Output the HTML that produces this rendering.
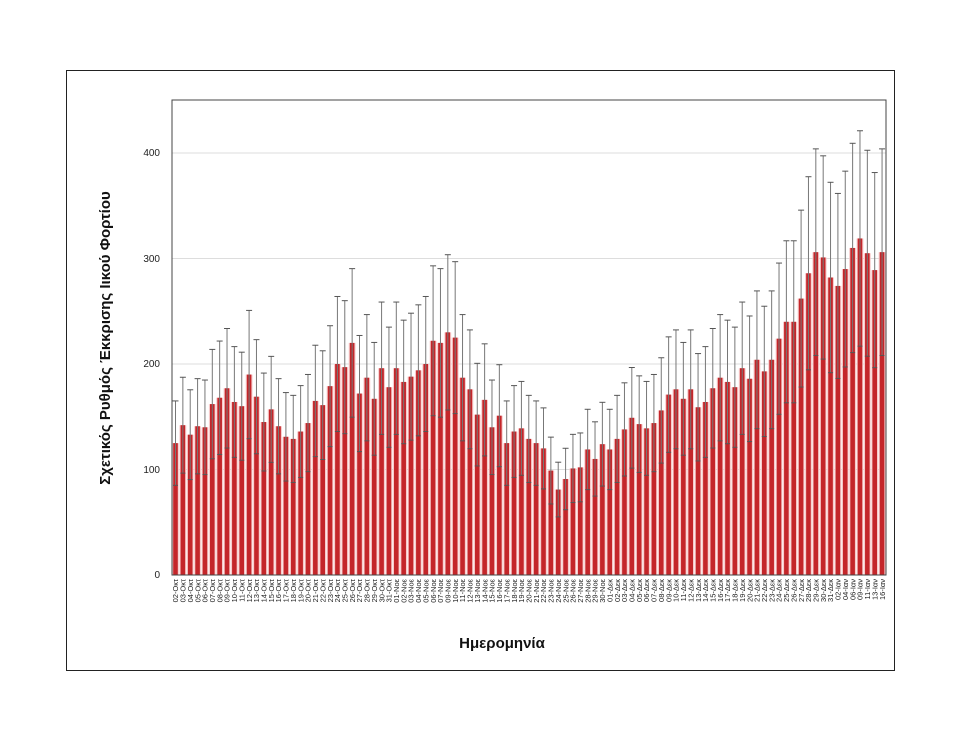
<!DOCTYPE html>
<html><head><meta charset="utf-8"><style>html,body{margin:0;padding:0;background:#fff}svg{display:block}</style></head>
<body>
<svg id="s" width="960" height="742" xmlns="http://www.w3.org/2000/svg" font-family="Liberation Sans, DejaVu Sans, sans-serif">
<rect x="66.5" y="70.5" width="828" height="600" fill="#fff" stroke="#222" stroke-width="1"/>
<g stroke="#ddd" stroke-width="1">
<line x1="172" y1="469.5" x2="886" y2="469.5"/>
<line x1="172" y1="364" x2="886" y2="364"/>
<line x1="172" y1="258.5" x2="886" y2="258.5"/>
<line x1="172" y1="153" x2="886" y2="153"/>
</g>
<g font-size="10" fill="#222" text-anchor="end">
<text x="160" y="578">0</text><text x="160" y="473">100</text><text x="160" y="367">200</text><text x="160" y="262">300</text><text x="160" y="156">400</text>
</g>
<g id="bars"></g>
<rect x="172" y="100" width="714" height="475" fill="none" stroke="#444" stroke-width="1"/>
<g id="labs" font-size="7.5" fill="#222"></g>
<text transform="translate(110,338) rotate(-90)" text-anchor="middle" font-size="15" font-weight="bold" fill="#111">Σχετικός Ρυθμός Έκκρισης Ιικού Φορτίου</text>
<text x="502" y="648" text-anchor="middle" font-size="15" font-weight="bold" fill="#111">Ημερομηνία</text>
</svg>
<script>
var v=[125,142,133,141,140,162,168,177,164,160,190,169,145,157,141,131,129,136,144,165,161,179,200,197,220,172,187,167,196,178,
196,183,188,194,200,222,220,230,225,187,
176,152,166,140,151,125,136,139,129,125,120,99,81,91,101,102,119,110,124,119,129,138,149,143,139,144,156,171,176,167,176,
159,164,177,187,183,178,196,186,204,193,204,224,240,240,262,286,306,301,282,274,290,310,319,305,289,306];
var L=[];
function p(n){return (n<10?'0':'')+n}
for(var d=2;d<=31;d++)L.push(p(d)+'-Οκτ');
for(var d=1;d<=30;d++)if(d!=8)L.push(p(d)+'-Νοε');
for(var d=1;d<=31;d++)L.push(p(d)+'-Δεκ');
[2,4,6,9,11,13,16].forEach(function(d){L.push(p(d)+'-Ιαν')});
var ns='http://www.w3.org/2000/svg',B=document.getElementById('bars'),T=document.getElementById('labs');
function el(t,a,par){var e=document.createElementNS(ns,t);for(var k in a)e.setAttribute(k,a[k]);par.appendChild(e);return e}
var y0=575,k=1.055,sp=7.36;
for(var i=0;i<v.length;i++){
 var cx=175.5+i*sp,h=v[i]*k;
 el('rect',{x:cx-3.4,y:y0-h,width:6.8,height:h,fill:'#f7caca'},B);
 el('rect',{x:cx-2.3,y:y0-h,width:4.6,height:h,fill:'#c4262a'},B);
 var yt=y0-v[i]*1.32*k,yb=y0-v[i]*0.68*k;
 el('line',{x1:cx,y1:yt,x2:cx,y2:yb,stroke:'#777','stroke-width':1},B);
 el('line',{x1:cx-3,y1:yt,x2:cx+3,y2:yt,stroke:'#555','stroke-width':1},B);
 el('line',{x1:cx-2.5,y1:yb,x2:cx+2.5,y2:yb,stroke:'#555','stroke-width':1},B);
 var t=el('text',{transform:'translate('+(cx+2.7)+',579) rotate(-90)','text-anchor':'end'},T);
 t.textContent=L[i];
}
</script>
</body></html>
